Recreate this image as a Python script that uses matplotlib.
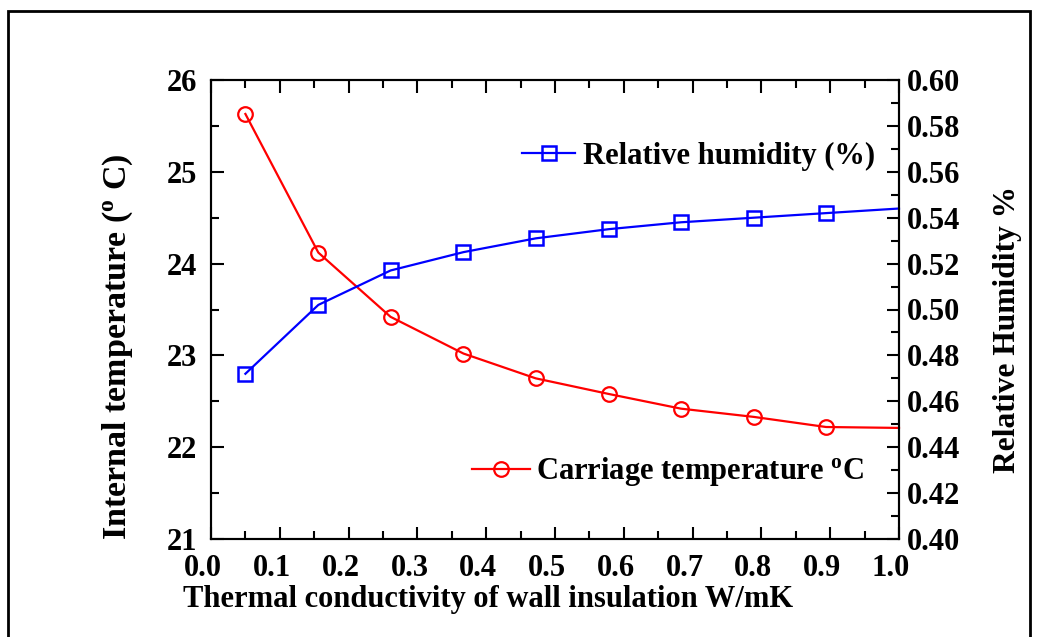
import matplotlib

matplotlib.use("Agg")
import matplotlib.pyplot as plt
from matplotlib.patches import Rectangle
from matplotlib.transforms import ScaledTranslation

plt.rcParams["font.family"] = ["Liberation Serif", "DejaVu Serif"]
plt.rcParams["font.weight"] = "bold"
plt.rcParams["mathtext.fontset"] = "custom"
plt.rcParams["mathtext.rm"] = "Liberation Serif:bold"
plt.rcParams["mathtext.bf"] = "Liberation Serif:bold"
plt.rcParams["mathtext.it"] = "Liberation Serif:bold:italic"

# wall insulation conductivity (W/mK)
conductivity = [0.05, 0.156, 0.261, 0.367, 0.472, 0.578, 0.683, 0.789, 0.894, 1.0]
# carriage temperature (deg C), left axis
temperature = [25.63, 24.12, 23.42, 23.02, 22.75, 22.58, 22.42, 22.33, 22.22, 22.21]
# relative humidity, right axis
humidity = [0.472, 0.502, 0.517, 0.525, 0.531, 0.535, 0.538, 0.540, 0.542, 0.544]

x_ticks = [0.0, 0.1, 0.2, 0.3, 0.4, 0.5, 0.6, 0.7, 0.8, 0.9, 1.0]
t_ticks = [21, 22, 23, 24, 25, 26]
rh_ticks = [0.40, 0.42, 0.44, 0.46, 0.48, 0.50, 0.52, 0.54, 0.56, 0.58, 0.60]

FS = 22
W, H = 1039, 637

fig = plt.figure(figsize=(W / 100, H / 100), dpi=100)
ax = fig.add_axes([211 / W, 1 - 539 / H, 688 / W, 459 / H])
ax2 = ax.twinx()

marks = list(range(9))
red, = ax.plot(conductivity, temperature, color="#ff0000", lw=1.6, marker="o", ms=10.5,
               mfc="none", mec="#ff0000", mew=1.6, markevery=marks, clip_on=False)
blue, = ax2.plot(conductivity, humidity, color="#0000ff", lw=1.6, marker="s", ms=10.5,
                 mfc="none", mec="#0000ff", mew=1.8, markevery=marks, clip_on=False)

ax.set_xlim(0.0, 1.0)
ax.set_ylim(21, 26)
ax2.set_ylim(0.40, 0.60)

ax.set_xticks(x_ticks)
ax.set_xticklabels([f"{v:.1f}" for v in x_ticks])
ax.set_xticks([v + 0.05 for v in x_ticks[:-1]], minor=True)
ax.set_yticks(t_ticks)
ax.set_yticks([v + 0.5 for v in t_ticks[:-1]], minor=True)
ax2.set_yticks(rh_ticks)
ax2.set_yticklabels([f"{v:.2f}" for v in rh_ticks])
ax2.set_yticks([v + 0.01 for v in rh_ticks[:-1]], minor=True)

for a in (ax, ax2):
    for sp in a.spines.values():
        sp.set_linewidth(1.5)
ax.tick_params(axis="x", which="both", direction="in", top=True, bottom=True, width=1.5,
               labelsize=FS, pad=11)
ax.tick_params(axis="x", which="major", length=9)
ax.tick_params(axis="x", which="minor", length=6)
ax.tick_params(axis="y", which="both", direction="in", left=True, right=False, width=1.5,
               labelsize=FS, pad=10)
ax.tick_params(axis="y", which="major", length=9)
ax.tick_params(axis="y", which="minor", length=6)
ax2.tick_params(axis="y", which="both", direction="in", width=1.5, labelsize=FS, pad=5.5)
ax2.tick_params(axis="y", which="major", length=9)
ax2.tick_params(axis="y", which="minor", length=6)

shift = ScaledTranslation(-8 / 100, 0, fig.dpi_scale_trans)
for lab in ax.get_xticklabels():
    lab.set_transform(lab.get_transform() + shift)

ax.set_xlabel("Thermal conductivity of wall insulation W/mK", fontsize=FS, fontweight="bold")
ax.xaxis.set_label_coords((488 - 211) / 688, (539 - 600) / 459)
ax.xaxis.label.set_va("center")

ax.set_ylabel(r"Internal temperature ($^\mathrm{o}$ C)", fontsize=24.5, fontweight="bold")
ax.yaxis.set_label_coords((118 - 211) / 688, (539 - 347) / 459)
ax.yaxis.label.set_va("center")

ax2.set_ylabel("Relative Humidity %", fontsize=22.7, fontweight="bold", rotation=90)
ax2.yaxis.set_label_coords((1007 - 211) / 688, (539 - 329) / 459)
ax2.yaxis.label.set_va("center")

leg1 = ax2.legend([blue], ["Relative humidity (%)"], loc="center left",
                  bbox_to_anchor=((522 - 211) / 688, (539 - 156) / 459),
                  frameon=False, fontsize=FS, handlelength=1.75, handletextpad=0.25,
                  borderpad=0, borderaxespad=0)
leg2 = ax2.legend([red], [r"Carriage temperature $^\mathrm{o}$C"], loc="center left",
                  bbox_to_anchor=((472 - 211) / 688, (539 - 472) / 459),
                  frameon=False, fontsize=FS, handlelength=1.9, handletextpad=0.2,
                  borderpad=0, borderaxespad=0)
ax2.add_artist(leg1)

fig.add_artist(Rectangle((7.5 / W, -0.01), (1030 - 7.5) / W, 1.01 - 10.5 / H,
                         transform=fig.transFigure, fill=False, lw=2, ec="black"))

fig.savefig("out.png", dpi=100)
